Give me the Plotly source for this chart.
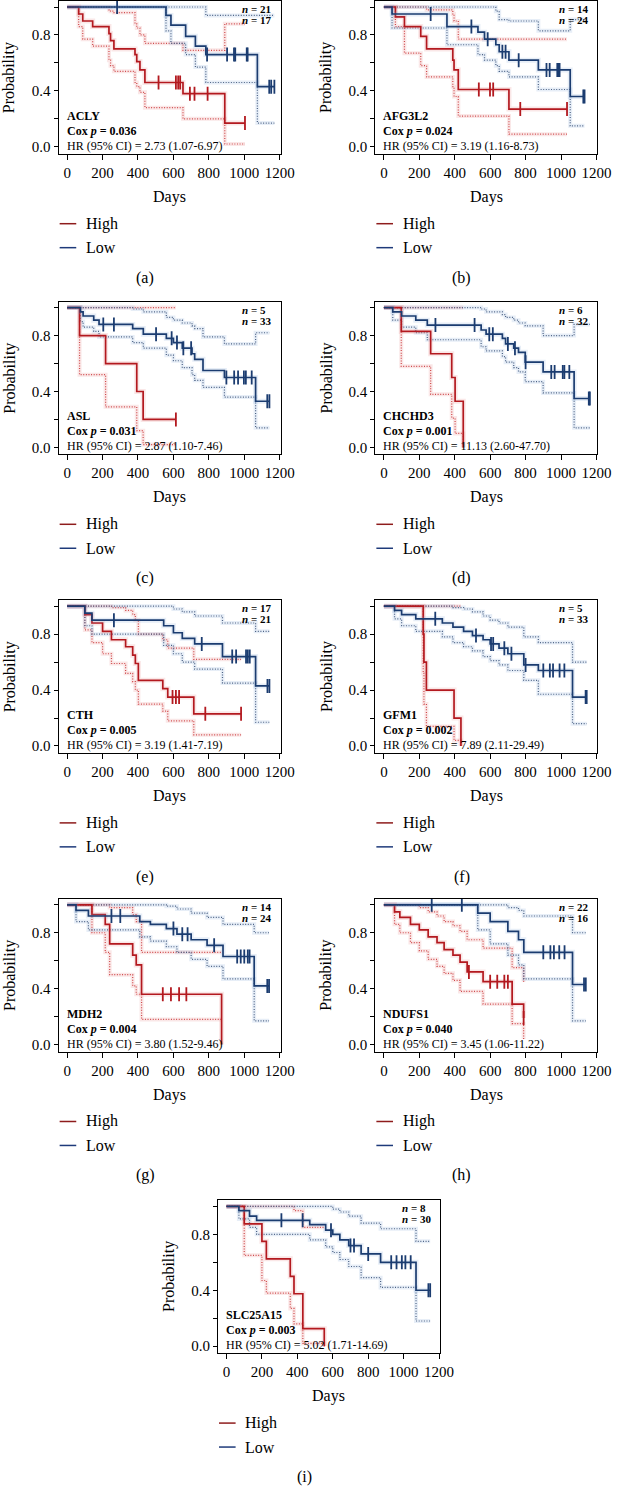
import plotly.graph_objects as go

# ---------------- data ----------------
GENES = ["ACLY", "AFG3L2", "ASL", "CHCHD3", "CTH", "GFM1", "MDH2", "NDUFS1", "SLC25A15"]
CAPTIONS = ["(a)", "(b)", "(c)", "(d)", "(e)", "(f)", "(g)", "(h)", "(i)"]
COX_P = ["0.036", "0.024", "0.031", "0.001", "0.005", "0.002", "0.004", "0.040", "0.003"]
HR_CI = ["2.73 (1.07-6.97)", "3.19 (1.16-8.73)", "2.87 (1.10-7.46)", "11.13 (2.60-47.70)",
         "3.19 (1.41-7.19)", "7.89 (2.11-29.49)", "3.80 (1.52-9.46)", "3.45 (1.06-11.22)",
         "5.02 (1.71-14.69)"]
N_HIGH = [21, 14, 5, 6, 17, 5, 14, 22, 8]
N_LOW = [17, 24, 33, 32, 21, 33, 24, 16, 30]

# High-expression group: event times (days), survival, upper/lower CI, censor times
HIGH_T = [
    [65, 88, 144, 236, 245, 264, 383, 393, 411, 439, 654, 890],
    [65, 116, 208, 241, 389, 396, 420, 706],
    [70, 217, 393, 429],
    [98, 264, 383, 402, 448],
    [100, 140, 200, 250, 330, 370, 385, 402, 540, 568, 715],
    [222, 226, 240, 396, 435],
    [140, 215, 240, 370, 390, 420, 872],
    [60, 90, 150, 200, 250, 300, 340, 390, 430, 470, 560, 724, 789],
    [100, 200, 225, 360, 381, 431, 552],
]
HIGH_S = [
    [0.95, 0.90, 0.86, 0.81, 0.76, 0.70, 0.66, 0.61, 0.55, 0.46, 0.38, 0.17],
    [0.93, 0.86, 0.79, 0.70, 0.62, 0.55, 0.41, 0.27],
    [0.8, 0.6, 0.4, 0.2],
    [0.83, 0.67, 0.50, 0.33, 0.0],
    [0.94, 0.88, 0.82, 0.76, 0.71, 0.65, 0.59, 0.47, 0.41, 0.35, 0.23],
    [0.8, 0.6, 0.4, 0.2, 0.0],
    [0.93, 0.86, 0.72, 0.64, 0.57, 0.36, 0.0],
    [0.95, 0.91, 0.86, 0.82, 0.77, 0.73, 0.68, 0.64, 0.59, 0.52, 0.45, 0.29, 0.19],
    [0.875, 0.75, 0.625, 0.5, 0.375, 0.125, 0.0],
]
HIGH_U = [
    [1.0, 1.0, 1.0, 0.98, 0.97, 0.96, 0.88, 0.85, 0.80, 0.74, 0.69, 0.88],
    [1.0, 1.0, 1.0, 0.98, 0.95, 0.90, 0.77, 0.77],
    [1.0, 1.0, 1.0, 1.0],
    [1.0, 1.0, 1.0, 1.0, 1.0],
    [1.0, 1.0, 1.0, 0.99, 0.97, 0.94, 0.90, 0.80, 0.76, 0.70, 0.62],
    [1.0, 1.0, 1.0, 1.0, 1.0],
    [1.0, 1.0, 0.98, 0.93, 0.88, 0.66, 0.66],
    [1.0, 1.0, 1.0, 0.98, 0.95, 0.92, 0.88, 0.85, 0.81, 0.75, 0.69, 0.55, 0.45],
    [1.0, 1.0, 1.0, 1.0, 0.97, 0.85, 0.85],
]
HIGH_L = [
    [0.86, 0.77, 0.72, 0.62, 0.58, 0.54, 0.46, 0.43, 0.39, 0.28, 0.20, 0.02],
    [0.86, 0.67, 0.58, 0.50, 0.43, 0.36, 0.22, 0.09],
    [0.52, 0.29, 0.12, 0.02],
    [0.58, 0.38, 0.21, 0.10, 0.0],
    [0.83, 0.74, 0.66, 0.59, 0.52, 0.46, 0.40, 0.30, 0.25, 0.18, 0.08],
    [0.52, 0.30, 0.14, 0.04, 0.0],
    [0.80, 0.66, 0.50, 0.42, 0.36, 0.18, 0.18],
    [0.86, 0.80, 0.73, 0.67, 0.61, 0.56, 0.51, 0.46, 0.38, 0.38, 0.29, 0.15, 0.04],
    [0.65, 0.47, 0.38, 0.27, 0.16, 0.02, 0.0],
]
HIGH_C = [
    [516, 614, 627, 638, 693, 719, 793, 1004],
    [536, 599, 617, 770, 1034],
    [614],
    [],
    [595, 614, 632, 780, 982],
    [],
    [540, 586, 632, 673],
    [480, 600, 640, 680, 700, 789],
    [],
]

# Low-expression group
LOW_T = [
    [558, 586, 669, 724, 783, 1074],
    [46, 356, 531, 568, 632, 651, 706, 872, 1052],
    [75, 90, 150, 180, 370, 430, 560, 600, 650, 705, 720, 767, 888, 1064],
    [50, 100, 180, 245, 549, 577, 669, 687, 733, 760, 798, 899, 1074],
    [100, 140, 545, 600, 650, 720, 877, 1064],
    [60, 100, 180, 330, 390, 450, 500, 560, 600, 650, 700, 790, 872, 1065],
    [50, 120, 410, 470, 560, 620, 700, 790, 880, 1056],
    [530, 600, 700, 760, 790, 1065],
    [70, 130, 170, 470, 560, 600, 640, 690, 760, 870, 1070],
]
LOW_S = [
    [0.94, 0.87, 0.79, 0.72, 0.66, 0.43],
    [0.95, 0.86, 0.82, 0.77, 0.73, 0.68, 0.62, 0.55, 0.36],
    [0.97, 0.94, 0.91, 0.88, 0.85, 0.81, 0.78, 0.75, 0.71, 0.67, 0.63, 0.55, 0.50, 0.33],
    [0.97, 0.94, 0.91, 0.875, 0.84, 0.81, 0.78, 0.74, 0.71, 0.68, 0.61, 0.54, 0.35],
    [0.95, 0.90, 0.86, 0.81, 0.77, 0.73, 0.64, 0.43],
    [0.97, 0.94, 0.91, 0.88, 0.85, 0.82, 0.79, 0.76, 0.73, 0.70, 0.66, 0.58, 0.54, 0.35],
    [0.96, 0.92, 0.88, 0.86, 0.83, 0.79, 0.75, 0.71, 0.63, 0.42],
    [0.94, 0.88, 0.81, 0.75, 0.66, 0.43],
    [0.97, 0.93, 0.90, 0.87, 0.83, 0.80, 0.76, 0.72, 0.66, 0.60, 0.40],
]
LOW_U = [
    [1.0, 1.0, 1.0, 1.0, 0.94, 0.94],
    [1.0, 1.0, 1.0, 1.0, 0.97, 0.91, 0.90, 0.83, 0.91],
    [1.0, 1.0, 1.0, 1.0, 0.99, 0.97, 0.93, 0.91, 0.89, 0.87, 0.85, 0.79, 0.74, 0.82],
    [1.0, 1.0, 1.0, 1.0, 0.99, 0.97, 0.95, 0.93, 0.91, 0.89, 0.87, 0.80, 0.88],
    [1.0, 1.0, 1.0, 0.98, 0.96, 0.93, 0.88, 0.82],
    [1.0, 1.0, 1.0, 1.0, 0.99, 0.98, 0.96, 0.93, 0.90, 0.88, 0.85, 0.78, 0.74, 0.60],
    [1.0, 1.0, 1.0, 1.0, 0.99, 0.97, 0.94, 0.91, 0.86, 0.80],
    [1.0, 1.0, 0.98, 0.96, 0.92, 0.80],
    [1.0, 1.0, 1.0, 1.0, 1.0, 0.98, 0.96, 0.93, 0.88, 0.84, 0.75],
]
LOW_L = [
    [0.83, 0.74, 0.66, 0.57, 0.46, 0.17],
    [0.85, 0.73, 0.66, 0.62, 0.58, 0.54, 0.50, 0.41, 0.15],
    [0.90, 0.86, 0.83, 0.79, 0.75, 0.71, 0.66, 0.62, 0.57, 0.52, 0.48, 0.43, 0.36, 0.14],
    [0.91, 0.86, 0.82, 0.77, 0.72, 0.69, 0.65, 0.61, 0.57, 0.54, 0.47, 0.39, 0.14],
    [0.86, 0.80, 0.72, 0.66, 0.60, 0.55, 0.45, 0.17],
    [0.91, 0.86, 0.82, 0.78, 0.74, 0.71, 0.68, 0.64, 0.61, 0.58, 0.54, 0.47, 0.37, 0.16],
    [0.88, 0.82, 0.77, 0.74, 0.70, 0.66, 0.61, 0.56, 0.47, 0.17],
    [0.82, 0.72, 0.64, 0.57, 0.47, 0.17],
    [0.91, 0.85, 0.80, 0.76, 0.71, 0.67, 0.62, 0.57, 0.49, 0.42, 0.18],
]
LOW_C = [
    [282, 790, 903, 942, 949, 1014, 1019, 1141, 1152, 1170],
    [264, 494, 586, 669, 687, 761, 918, 936, 979, 986, 992, 1126, 1133],
    [204, 264, 502, 590, 620, 656, 700, 899, 943, 965, 998, 1009, 1042, 1130, 1142],
    [291, 512, 595, 615, 700, 740, 800, 945, 964, 1010, 1019, 1047, 1157, 1163],
    [264, 760, 932, 954, 1010, 1020, 1031, 1131, 1142],
    [290, 520, 605, 617, 680, 720, 800, 900, 937, 955, 992, 1019, 1139, 1145],
    [250, 300, 600, 650, 680, 830, 960, 980, 1000, 1020, 1030, 1130, 1140],
    [270, 440, 900, 940, 960, 990, 1020, 1130, 1140],
    [310, 430, 590, 700, 720, 800, 930, 960, 990, 1010, 1040, 1140, 1150],
]

X_TICKS = [0, 200, 400, 600, 800, 1000, 1200]
Y_TICKS = [0.0, 0.2, 0.4, 0.6, 0.8, 1.0]
Y_TICKTEXT = ["0.0", "", "0.4", "", "0.8", ""]

# ---------------- layout geometry (pixels) ----------------
W, H = 625, 1487
BOX_W, BOX_H = 227, 153
ROW_BOTTOM = [153, 454, 753, 1052, 1354]
PANEL_POS = [(60, 0), (384, 0), (60, 1), (384, 1), (60, 2), (384, 2), (60, 3), (384, 3), (223, 4)]
XR = [-48, 1205]
YR = [-0.05, 1.043]

RED = "#b3191f"
RED_CI = "#cf4a4c"
RED_HALO = "rgba(225,120,120,0.18)"
BLUE = "#1b3c70"
BLUE_CI = "#4c6285"
BLUE_HALO = "rgba(120,160,210,0.18)"
LEG_RED = "#8e1c1c"
LEG_BLUE = "#1e3a7a"
FONT = "Liberation Serif, Times New Roman, serif"
DOT = "1px,1.6px"


def pxx(p):
    return p / W


def pxy(p):
    return 1 - p / H


def surv_at(T, S, t):
    v = 1.0
    for ti, si in zip(T, S):
        if ti <= t:
            v = si
    return v


fig = go.Figure()
annotations = []
shapes = []

for k in range(9):
    left, row = PANEL_POS[k]
    bottom = ROW_BOTTOM[row]
    top = bottom - BOX_H
    right = left + BOX_W
    sfx = "" if k == 0 else str(k + 1)
    xa, ya = "x" + sfx, "y" + sfx

    groups = [
        (HIGH_T[k], HIGH_S[k], HIGH_U[k], HIGH_L[k], HIGH_C[k], RED, RED_CI, RED_HALO),
        (LOW_T[k], LOW_S[k], LOW_U[k], LOW_L[k], LOW_C[k], BLUE, BLUE_CI, BLUE_HALO),
    ]
    # CI bands first (soft halo + dotted line)
    for T, S, U, L, C, col, cicol, halo in groups:
        end = max([T[-1]] + C)
        xs = [0] + T + [end]
        for band in (U, L):
            ys = [1.0] + band + [band[-1]]
            fig.add_trace(go.Scatter(x=xs, y=ys, mode="lines", line_shape="hv",
                                     line=dict(color=halo, width=4),
                                     xaxis=xa, yaxis=ya, hoverinfo="skip"))
            fig.add_trace(go.Scatter(x=xs, y=ys, mode="lines", line_shape="hv",
                                     line=dict(color=cicol, width=1.2, dash=DOT),
                                     xaxis=xa, yaxis=ya, hoverinfo="skip"))
    for T, S, U, L, C, col, cicol, halo in groups:
        end = max([T[-1]] + C)
        xs = [0] + T + [end]
        ys = [1.0] + S + [S[-1]]
        fig.add_trace(go.Scatter(x=xs, y=ys, mode="lines", line_shape="hv",
                                 line=dict(color=halo, width=5),
                                 xaxis=xa, yaxis=ya, hoverinfo="skip"))
        fig.add_trace(go.Scatter(x=xs, y=ys, mode="lines", line_shape="hv",
                                 line=dict(color=col, width=1.7),
                                 xaxis=xa, yaxis=ya, hoverinfo="skip"))
        if C:
            fig.add_trace(go.Scatter(x=C, y=[surv_at(T, S, t) for t in C], mode="markers",
                                     marker=dict(symbol="line-ns", size=10,
                                                 line=dict(color=col, width=1.8)),
                                     xaxis=xa, yaxis=ya, hoverinfo="skip"))

    xname = "xaxis" + sfx
    yname = "yaxis" + sfx
    fig.update_layout(**{
        xname: dict(domain=[pxx(left), pxx(right)], range=XR, anchor=ya,
                    tickvals=X_TICKS, ticks="outside", ticklen=5, tickwidth=1,
                    tickcolor="black", showline=True, linecolor="black", linewidth=1.2,
                    mirror=True, showgrid=False, zeroline=False,
                    tickfont=dict(family=FONT, size=15, color="black")),
        yname: dict(domain=[pxy(bottom), pxy(top)], range=YR, anchor=xa,
                    tickvals=Y_TICKS, ticktext=Y_TICKTEXT, ticks="outside", ticklen=4,
                    tickwidth=1, tickcolor="black", showline=True, linecolor="black",
                    linewidth=1.2, mirror=True, showgrid=False, zeroline=False,
                    tickfont=dict(family=FONT, size=15, color="black")),
    })

    # in-plot texts
    tx = left + 6
    zero_y = bottom - 7
    for txt, dy in ((f"<b>{GENES[k]}</b>", -31), (f"<b>Cox <i>p</i> = {COX_P[k]}</b>", -16),
                    (f"HR (95% CI) = {HR_CI[k]}", -1)):
        annotations.append(dict(x=pxx(tx), y=pxy(zero_y + dy), xref="paper", yref="paper",
                                text=txt, showarrow=False, xanchor="left", yanchor="middle",
                                font=dict(family=FONT, size=12, color="black")))
    for txt, dy in ((f"<b><i>n</i> = {N_HIGH[k]}</b>", 8), (f"<b><i>n</i> = {N_LOW[k]}</b>", 19)):
        annotations.append(dict(x=pxx(right - 40), y=pxy(top + dy), xref="paper", yref="paper",
                                text=txt, showarrow=False, xanchor="left", yanchor="middle",
                                borderpad=0,
                                font=dict(family=FONT, size=11, color="black")))
    # axis titles
    annotations.append(dict(x=pxx(left - 50), y=pxy(top + BOX_H / 2), xref="paper", yref="paper",
                            text="Probability", textangle=-90, showarrow=False,
                            xanchor="center", yanchor="middle",
                            font=dict(family=FONT, size=16, color="black")))
    annotations.append(dict(x=pxx(left + BOX_W / 2), y=pxy(bottom + 43), xref="paper", yref="paper",
                            text="Days", showarrow=False, xanchor="center", yanchor="middle",
                            font=dict(family=FONT, size=16, color="black")))
    # legend
    for lab, col, dy in (("High", LEG_RED, 70), ("Low", LEG_BLUE, 94)):
        shapes.append(dict(type="line", xref="paper", yref="paper",
                           x0=pxx(left + 1), x1=pxx(left + 18), y0=pxy(bottom + dy), y1=pxy(bottom + dy),
                           line=dict(color=col, width=1.5)))
        annotations.append(dict(x=pxx(left + 26), y=pxy(bottom + dy), xref="paper", yref="paper",
                                text=lab, showarrow=False, xanchor="left", yanchor="middle",
                                font=dict(family=FONT, size=16, color="black")))
    annotations.append(dict(x=pxx(left + BOX_W / 2 - 25), y=pxy(bottom + 124), xref="paper",
                            yref="paper", text=CAPTIONS[k], showarrow=False, xanchor="center",
                            yanchor="middle", font=dict(family=FONT, size=16, color="black")))

fig.update_layout(width=W, height=H, margin=dict(l=0, r=0, t=0, b=0),
                  plot_bgcolor="white", paper_bgcolor="white", showlegend=False,
                  annotations=annotations, shapes=shapes)

fig.write_html("out.html", config={"displayModeBar": False},
               post_script="document.body.style.margin='0';")
